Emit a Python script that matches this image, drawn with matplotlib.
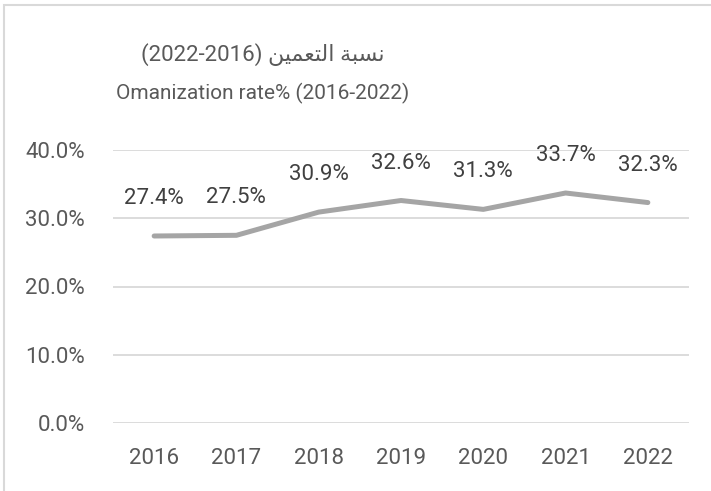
import matplotlib
matplotlib.use("Agg")
import matplotlib.pyplot as plt
from matplotlib.patches import Rectangle

years = ["2016", "2017", "2018", "2019", "2020", "2021", "2022"]
rates = [27.4, 27.5, 30.9, 32.6, 31.3, 33.7, 32.3]
yticks = [0, 10, 20, 30, 40]

# arabic title in presentation forms, visual order (matplotlib does no shaping)
title_ar = "(2022-2016) \uFEE6\uFEF4\uFEE4\uFECC\uFE98\uFEDF\uFE8D \uFE94\uFE92\uFEB4\uFEE7"
title_en = "Omanization rate% (2016-2022)"

fonts = ["Roboto", "DejaVu Sans"]
txt = "#595959"

fig = plt.figure(figsize=(7.11, 4.91), dpi=100)
ax = fig.add_axes([113/711, 68/491, 576/711, 273/491])

x = list(range(len(years)))
ax.plot(x, rates, color="#A5A5A5", lw=3.6, solid_capstyle="round", solid_joinstyle="round")
for xi, v in zip(x, rates):
    ax.annotate(f"{v:.1f}%", (xi, v), xytext=(0, 27), textcoords="offset points",
                ha="center", va="center", fontsize=16, color="#404040", family=fonts)

ax.set_xlim(-0.5, len(years) - 0.5)
ax.set_ylim(0, 40)
ax.set_yticks(yticks)
ax.set_yticklabels([f"{t:.1f}%" for t in yticks])
ax.set_xticks(x)
ax.set_xticklabels(years)
ax.grid(axis="y", color="#D9D9D9", lw=1.3)
ax.set_axisbelow(True)
for s in ax.spines.values():
    s.set_visible(False)
ax.tick_params(length=0, colors=txt, labelsize=16)
ax.tick_params(axis="x", pad=18)
ax.tick_params(axis="y", pad=20)
for lab in ax.get_xticklabels() + ax.get_yticklabels():
    lab.set_family(fonts)

fig.text(263/711, 1 - 55/491, title_ar, ha="center", va="center", fontsize=16, color=txt, family=fonts)
fig.text(263/711, 1 - 93/491, title_en, ha="center", va="center", fontsize=15, color=txt, family=fonts)

fig.patches.append(Rectangle((4/711, -0.1), 1.2, 1.1 - 5/491, transform=fig.transFigure,
                             fill=False, ec="#D9D9D9", lw=1.5))

fig.savefig("out.png", dpi=100)
